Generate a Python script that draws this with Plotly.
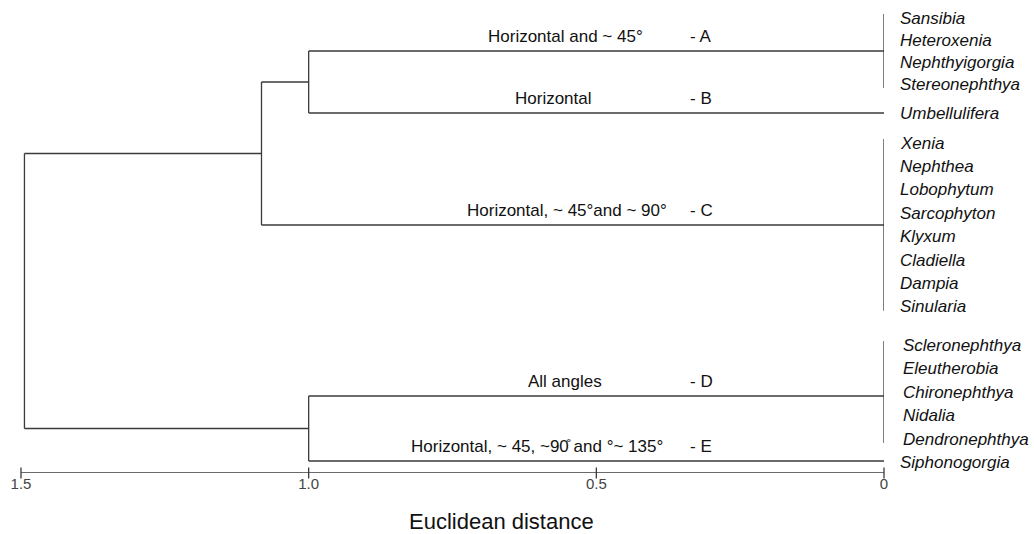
import plotly.graph_objects as go

# ---------------- data ----------------
leaf_names = [
    "Sansibia", "Heteroxenia", "Nephthyigorgia", "Stereonephthya",
    "Umbellulifera",
    "Xenia", "Nephthea", "Lobophytum", "Sarcophyton", "Klyxum", "Cladiella", "Dampia", "Sinularia",
    "Scleronephthya", "Eleutherobia", "Chironephthya", "Nidalia", "Dendronephthya",
    "Siphonogorgia",
]
leaf_group = ["A"] * 4 + ["B"] + ["C"] * 8 + ["D"] * 5 + ["E"]

groups = ["A", "B", "C", "D", "E"]
group_desc = [
    "Horizontal and ~ 45°",
    "Horizontal",
    "Horizontal, ~ 45°and ~ 90°",
    "All angles",
    "Horizontal, ~ 45, ~90\u030a and °~ 135°",
]

# merges: (name, children, Euclidean distance)
merge_names = ["AB", "ABC", "DE", "root"]
merge_children = [["A", "B"], ["AB", "C"], ["D", "E"], ["ABC", "DE"]]
merge_height = [1.0, 1.082, 1.0, 1.494]

tick_vals = [1.5, 1.0, 0.5, 0.0]
tick_text = ["1.5", "1.0", "0.5", "0"]
x_title = "Euclidean distance"

# ---------------- layout constants (pixels) ----------------
W, H = 1034, 534
PLOT_L, PLOT_R = 21, 884          # x pixel of 1.5 and 0
PLOT_B = 473                      # y pixel of the axis
GROUP_TOP = {"A": 18, "B": 113, "C": 143, "D": 345, "E": 462}
GROUP_STEP = {"A": 22, "B": 23.4, "C": 23.4, "D": 23.5, "E": 23.4}
BRANCH_Y = {"A": 51, "B": 113, "C": 225, "D": 396, "E": 461}
DESC_CX = {"A": 565, "B": 553, "C": 567, "D": 565, "E": 537}
DESC_DY = -15
LETTER_X = 688
FONT = "Liberation Sans, Arial, sans-serif"
LINE_COLOR = "#3a3a3a"
LW = 1.3

# leaf y positions
leaf_y = []
counter = {}
for g in leaf_group:
    k = counter.get(g, 0)
    leaf_y.append(GROUP_TOP[g] + k * GROUP_STEP[g])
    counter[g] = k + 1

# node positions
node_x = {g: 0.0 for g in groups}
node_y = {g: BRANCH_Y[g] for g in groups}

xs, ys = [], []
def seg(x0, y0, x1, y1):
    xs.extend([x0, x1, None])
    ys.extend([y0, y1, None])

for name, ch, h in zip(merge_names, merge_children, merge_height):
    cy = [node_y[c] for c in ch]
    for c in ch:
        seg(node_x[c], node_y[c], h, node_y[c])
    seg(h, min(cy), h, max(cy))
    node_x[name] = h
    node_y[name] = sum(cy) / len(cy)

# group vertical bars at distance 0
for g in groups:
    ys_g = [y for y, gg in zip(leaf_y, leaf_group) if gg == g]
    if len(ys_g) > 1:
        seg(0.0, min(ys_g) - 4, 0.0, max(ys_g) + 4)

fig = go.Figure()
fig.add_trace(go.Scatter(x=xs, y=ys, mode="lines",
                         line=dict(color=LINE_COLOR, width=LW),
                         hoverinfo="skip", showlegend=False))
# axis line + ticks crossing it
fig.add_trace(go.Scatter(x=[tick_vals[0], tick_vals[-1]], y=[PLOT_B, PLOT_B], mode="lines",
                         line=dict(color=LINE_COLOR, width=LW), cliponaxis=False,
                         hoverinfo="skip", showlegend=False))
fig.add_trace(go.Scatter(x=tick_vals, y=[PLOT_B] * len(tick_vals), mode="markers",
                         marker=dict(symbol="line-ns", size=8,
                                     line=dict(color=LINE_COLOR, width=LW)),
                         cliponaxis=False, hoverinfo="skip", showlegend=False))

annotations = []
for name, y, g in zip(leaf_names, leaf_y, leaf_group):
    annotations.append(dict(x=0, y=y, xref="x", yref="y", text=f"<i>{name}</i>",
                            showarrow=False, xanchor="left", yanchor="middle",
                            xshift=17 if g == "D" else 14,
                            font=dict(family=FONT, size=17, color="#111")))

def px_to_paper(px):
    return (px - PLOT_L) / (PLOT_R - PLOT_L)

for g, d in zip(groups, group_desc):
    y = BRANCH_Y[g] + DESC_DY
    annotations.append(dict(x=px_to_paper(DESC_CX[g]), y=y, xref="paper", yref="y", text=d,
                            showarrow=False, xanchor="center", yanchor="middle",
                            font=dict(family=FONT, size=17, color="#111")))
    annotations.append(dict(x=px_to_paper(LETTER_X), y=y, xref="paper", yref="y", text=f"- {g}",
                            showarrow=False, xanchor="left", yanchor="middle",
                            font=dict(family=FONT, size=17, color="#111")))

annotations.append(dict(x=px_to_paper(501), y=-(521 - PLOT_B) / PLOT_B, xref="paper", yref="paper",
                        text=x_title, showarrow=False, xanchor="center", yanchor="middle",
                        font=dict(family=FONT, size=22, color="#111")))

fig.update_layout(
    width=W, height=H,
    margin=dict(l=PLOT_L, r=W - PLOT_R, t=0, b=H - PLOT_B, pad=0),
    paper_bgcolor="white", plot_bgcolor="white",
    annotations=annotations,
    xaxis=dict(range=[1.5, 0], showgrid=False, zeroline=False, showline=False,
               tickvals=tick_vals, ticktext=tick_text, ticks="",
               tickfont=dict(family=FONT, size=15, color="#444"), fixedrange=True),
    yaxis=dict(range=[PLOT_B, 0], visible=False, fixedrange=True),
)

fig.write_html("out.html", config={"displayModeBar": False})
